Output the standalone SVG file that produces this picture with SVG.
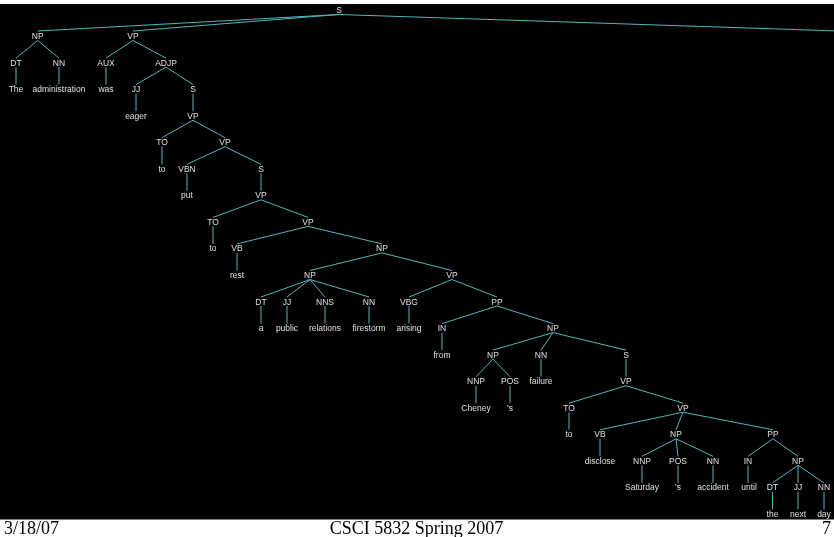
<svg xmlns="http://www.w3.org/2000/svg" width="834" height="537" viewBox="0 0 834 537">
<style>
.t{font-family:"Liberation Sans",Arial,sans-serif;font-size:8.5px;fill:#e2e2e2;text-anchor:middle}
.e{stroke:#52b6bd;stroke-width:1;fill:none}
.f{font-family:"Liberation Serif","Times New Roman",serif;font-size:18px;fill:#000}
#labels{opacity:0.99;will-change:transform}
</style>
<rect x="0" y="0" width="834" height="537" fill="#fff"/>
<rect x="0" y="4" width="834" height="515.5" fill="#000"/>
<g id="edges" class="e">
<path d="M339 14.5L37.7 31M339 14.5L133 31M339 14.5L845 31.2"/>
<path d="M37.7 40.5L16 58.1M37.7 40.5L59 58.1M16 67.1V84.6M59 67.1V84.6"/>
<path d="M133 40.5L106 58.1M133 40.5L166 58.1M106 67.1V84.6"/>
<path d="M166 67.1L136 84.6M166 67.1L193 84.6M136 93.6V111.2M193 93.6V111.2"/>
<path d="M193 120.2L162 137.7M193 120.2L225 137.7M162 146.7V164.3"/>
<path d="M225 146.7L187 164.3M225 146.7L261 164.3M187 173.3V190.8M261 173.3V190.8"/>
<path d="M261 199.8L213 217.4M261 199.8L308 217.4M213 226.4V243.9"/>
<path d="M308 226.4L237 243.9M308 226.4L382 243.9M237 252.9V270.5"/>
<path d="M382 252.9L310 270.5M382 252.9L452 270.5"/>
<path d="M310 279.5L261 297M310 279.5L287 297M310 279.5L325 297M310 279.5L369 297"/>
<path d="M261 306V323.6M287 306V323.6M325 306V323.6M369 306V323.6"/>
<path d="M452 279.5L409 297M452 279.5L497 297M409 306V323.6"/>
<path d="M497 306L442 323.6M497 306L553 323.6M442 332.6V350.1"/>
<path d="M553 332.6L493 350.1M553 332.6L541 350.1M553 332.6L626 350.1"/>
<path d="M493 359.1L476 376.7M493 359.1L510 376.7M541 359.1V376.7M626 359.1V376.7"/>
<path d="M476 385.7V403.2M510 385.7V403.2"/>
<path d="M626 385.7L569 403.2M626 385.7L683 403.2M569 412.2V429.8"/>
<path d="M683 412.2L600 429.8M683 412.2L676 429.8M683 412.2L773 429.8M600 438.8V456.3"/>
<path d="M676 438.8L642 456.3M676 438.8L678 456.3M676 438.8L713 456.3"/>
<path d="M773 438.8L748 456.3M773 438.8L798 456.3"/>
<path d="M642 465.3V482.9M678 465.3V482.9M713 465.3V482.9M748 465.3V482.9"/>
<path d="M798 465.3L772.5 482.9M798 465.3V482.9M798 465.3L824 482.9"/>
<path d="M772.5 491.9V509.4M798 491.9V509.4M824 491.9V509.4"/>
</g>
<g id="labels">
<g id="n-S0"><text class="t" x="339" y="13">S</text></g>
<g id="n-NP1"><text class="t" x="37.7" y="39">NP</text></g>
<g id="n-VP1"><text class="t" x="133" y="39">VP</text></g>
<g id="n-DT1"><text class="t" x="16" y="65.6">DT</text></g>
<g id="n-NN1"><text class="t" x="59" y="65.6">NN</text></g>
<g id="n-AUX"><text class="t" x="106" y="65.6">AUX</text></g>
<g id="n-ADJP"><text class="t" x="166" y="65.6">ADJP</text></g>
<g id="w-The"><text class="t" x="16" y="92.1">The</text></g>
<g id="w-administration"><text class="t" x="59" y="92.1">administration</text></g>
<g id="w-was"><text class="t" x="106" y="92.1">was</text></g>
<g id="n-JJ1"><text class="t" x="136" y="92.1">JJ</text></g>
<g id="n-S1"><text class="t" x="193" y="92.1">S</text></g>
<g id="w-eager"><text class="t" x="136" y="118.7">eager</text></g>
<g id="n-VP2"><text class="t" x="193" y="118.7">VP</text></g>
<g id="n-TO1"><text class="t" x="162" y="145.2">TO</text></g>
<g id="n-VP3"><text class="t" x="225" y="145.2">VP</text></g>
<g id="w-to1"><text class="t" x="162" y="171.8">to</text></g>
<g id="n-VBN"><text class="t" x="187" y="171.8">VBN</text></g>
<g id="n-S2"><text class="t" x="261" y="171.8">S</text></g>
<g id="w-put"><text class="t" x="187" y="198.3">put</text></g>
<g id="n-VP4"><text class="t" x="261" y="198.3">VP</text></g>
<g id="n-TO2"><text class="t" x="213" y="224.9">TO</text></g>
<g id="n-VP5"><text class="t" x="308" y="224.9">VP</text></g>
<g id="w-to2"><text class="t" x="213" y="251.4">to</text></g>
<g id="n-VB1"><text class="t" x="237" y="251.4">VB</text></g>
<g id="n-NP2"><text class="t" x="382" y="251.4">NP</text></g>
<g id="w-rest"><text class="t" x="237" y="278">rest</text></g>
<g id="n-NP3"><text class="t" x="310" y="278">NP</text></g>
<g id="n-VP6"><text class="t" x="452" y="278">VP</text></g>
<g id="n-DT2"><text class="t" x="261" y="304.5">DT</text></g>
<g id="n-JJ2"><text class="t" x="287" y="304.5">JJ</text></g>
<g id="n-NNS"><text class="t" x="325" y="304.5">NNS</text></g>
<g id="n-NN2"><text class="t" x="369" y="304.5">NN</text></g>
<g id="n-VBG"><text class="t" x="409" y="304.5">VBG</text></g>
<g id="n-PP1"><text class="t" x="497" y="304.5">PP</text></g>
<g id="w-a"><text class="t" x="261" y="331.1">a</text></g>
<g id="w-public"><text class="t" x="287" y="331.1">public</text></g>
<g id="w-relations"><text class="t" x="325" y="331.1">relations</text></g>
<g id="w-firestorm"><text class="t" x="369" y="331.1">firestorm</text></g>
<g id="w-arising"><text class="t" x="409" y="331.1">arising</text></g>
<g id="n-IN1"><text class="t" x="442" y="331.1">IN</text></g>
<g id="n-NP4"><text class="t" x="553" y="331.1">NP</text></g>
<g id="w-from"><text class="t" x="442" y="357.6">from</text></g>
<g id="n-NP5"><text class="t" x="493" y="357.6">NP</text></g>
<g id="n-NN3"><text class="t" x="541" y="357.6">NN</text></g>
<g id="n-S3"><text class="t" x="626" y="357.6">S</text></g>
<g id="n-NNP1"><text class="t" x="476" y="384.2">NNP</text></g>
<g id="n-POS1"><text class="t" x="510" y="384.2">POS</text></g>
<g id="w-failure"><text class="t" x="541" y="384.2">failure</text></g>
<g id="n-VP7"><text class="t" x="626" y="384.2">VP</text></g>
<g id="w-Cheney"><text class="t" x="476" y="410.7">Cheney</text></g>
<g id="w-s1"><text class="t" x="510" y="410.7">'s</text></g>
<g id="n-TO3"><text class="t" x="569" y="410.7">TO</text></g>
<g id="n-VP8"><text class="t" x="683" y="410.7">VP</text></g>
<g id="w-to3"><text class="t" x="569" y="437.3">to</text></g>
<g id="n-VB2"><text class="t" x="600" y="437.3">VB</text></g>
<g id="n-NP6"><text class="t" x="676" y="437.3">NP</text></g>
<g id="n-PP2"><text class="t" x="773" y="437.3">PP</text></g>
<g id="w-disclose"><text class="t" x="600" y="463.8">disclose</text></g>
<g id="n-NNP2"><text class="t" x="642" y="463.8">NNP</text></g>
<g id="n-POS2"><text class="t" x="678" y="463.8">POS</text></g>
<g id="n-NN4"><text class="t" x="713" y="463.8">NN</text></g>
<g id="n-IN2"><text class="t" x="748" y="463.8">IN</text></g>
<g id="n-NP7"><text class="t" x="798" y="463.8">NP</text></g>
<g id="w-Saturday"><text class="t" x="642" y="490.4">Saturday</text></g>
<g id="w-s2"><text class="t" x="678" y="490.4">'s</text></g>
<g id="w-accident"><text class="t" x="713" y="490.4">accident</text></g>
<g id="w-until"><text class="t" x="749" y="490.4">until</text></g>
<g id="n-DT3"><text class="t" x="772.5" y="490.4">DT</text></g>
<g id="n-JJ3"><text class="t" x="798" y="490.4">JJ</text></g>
<g id="n-NN5"><text class="t" x="824" y="490.4">NN</text></g>
<g id="w-the"><text class="t" x="772.5" y="516.9">the</text></g>
<g id="w-next"><text class="t" x="798" y="516.9">next</text></g>
<g id="w-day"><text class="t" x="824" y="516.9">day</text></g>
</g>
<g id="footer">
<text class="f" x="4" y="534">3/18/07</text>
<text class="f" x="416.5" y="534" text-anchor="middle">CSCI 5832 Spring 2007</text>
<text class="f" x="831" y="534" text-anchor="end">7</text>
</g>
</svg>
